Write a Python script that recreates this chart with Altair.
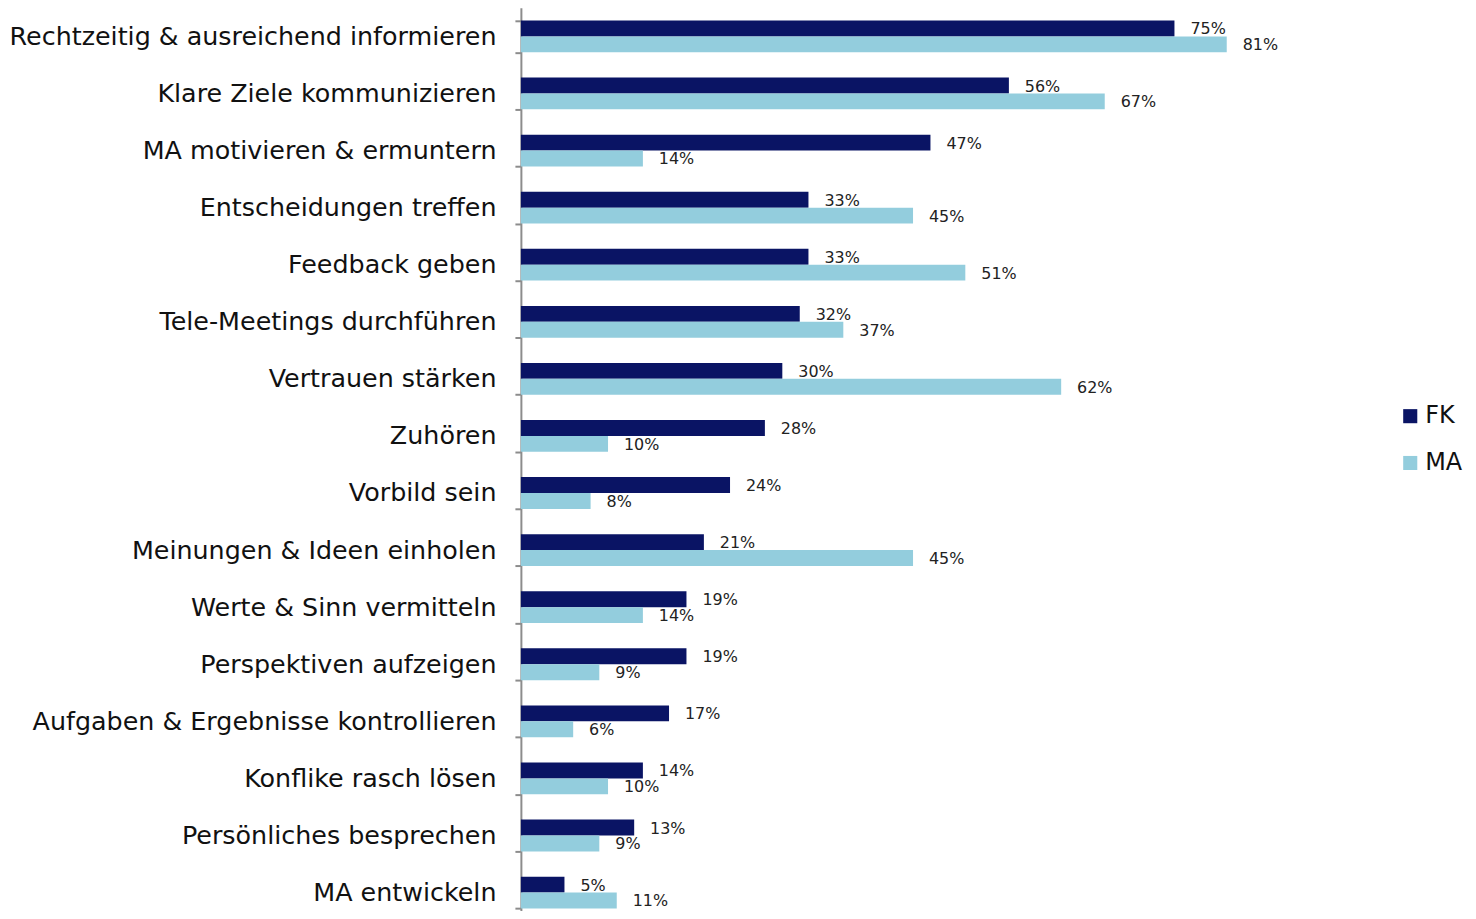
import altair as alt
import pandas as pd

categories = [
    "Rechtzeitig & ausreichend informieren",
    "Klare Ziele kommunizieren",
    "MA motivieren & ermuntern",
    "Entscheidungen treffen",
    "Feedback geben",
    "Tele-Meetings durchführen",
    "Vertrauen stärken",
    "Zuhören",
    "Vorbild sein",
    "Meinungen & Ideen einholen",
    "Werte & Sinn vermitteln",
    "Perspektiven aufzeigen",
    "Aufgaben & Ergebnisse kontrollieren",
    "Konflike rasch lösen",
    "Persönliches besprechen",
    "MA entwickeln",
]
fk_values = [75, 56, 47, 33, 33, 32, 30, 28, 24, 21, 19, 19, 17, 14, 13, 5]
ma_values = [81, 67, 14, 45, 51, 37, 62, 10, 8, 45, 14, 9, 6, 10, 9, 11]
series = ["FK", "MA"]
colors = ["#0a1464", "#93cddd"]

rows = []
for c, f, m in zip(categories, fk_values, ma_values):
    rows.append({"Kategorie": c, "Gruppe": "FK", "Wert": f, "Label": f"{f}%"})
    rows.append({"Kategorie": c, "Gruppe": "MA", "Wert": m, "Label": f"{m}%"})
df = pd.DataFrame(rows)

y_enc = alt.Y(
    "Kategorie:N",
    sort=categories,
    scale=alt.Scale(paddingInner=0.443, paddingOuter=0.2215, range=[-2, 915]),
    axis=alt.Axis(
        title=None,
        labelFontSize=25.5,
        labelFont="DejaVu Sans",
        labelColor="#111111",
        labelPadding=19,
        tickBand="extent",
        tickSize=6,
        tickWidth=2,
        tickColor="#8c8c8c",
        domainColor="#8c8c8c",
        domainWidth=2,
        labelLimit=600,
    ),
)
x_enc = alt.X("Wert:Q", scale=alt.Scale(domain=[0, 100]), axis=None)
yoff = alt.YOffset("Gruppe:N", sort=series, scale=alt.Scale(paddingInner=0, paddingOuter=0))

base = alt.Chart(df).encode(y=y_enc, x=x_enc, yOffset=yoff)

bars = base.mark_bar(height=alt.RelativeBandSize(1.0)).encode(
    color=alt.Color(
        "Gruppe:N",
        sort=series,
        scale=alt.Scale(domain=series, range=colors),
        legend=alt.Legend(
            title=None,
            orient="none",
            legendX=881,
            legendY=396,
            symbolType="square",
            symbolSize=200,
            symbolStrokeWidth=0,
            labelFontSize=24,
            labelFont="DejaVu Sans",
            labelColor="#111111",
            rowPadding=23,
            labelOffset=3,
        ),
    )
)

texts = base.mark_text(
    align="left", baseline="middle", dx=16, dy=1, fontSize=16, font="DejaVu Sans", color="#222222"
).encode(text="Label:N")

chart = (
    alt.layer(bars, texts)
    .properties(
        width=875,
        height=903,
        autosize=alt.AutoSizeParams(type="none"),
        padding={"left": 515, "top": 0, "right": 76, "bottom": 0},
    )
    .configure_view(stroke=None)
)

chart.save("out.html", embed_options={"renderer": "svg", "actions": False})
